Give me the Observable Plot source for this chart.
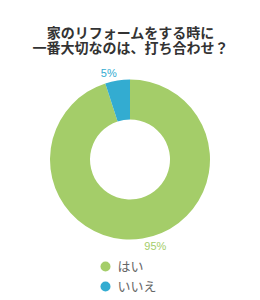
<!DOCTYPE html>
<html>
<head>
<meta charset="utf-8">
<script src="https://cdn.jsdelivr.net/npm/d3@7"></script>
<script src="https://cdn.jsdelivr.net/npm/@observablehq/plot@0.6"></script>
<style>
  html, body { margin: 0; padding: 0; background: #fff; }
</style>
</head>
<body>
<div id="chart"></div>
<script>
// ---- data ----
const titleLines = ["家のリフォームをする時に", "一番大切なのは、打ち合わせ？"];
const categories = ["はい", "いいえ"];
const values = [95, 5];
const colors = ["#a4cd69", "#33acd1"];

// ---- layout ----
const W = 260, H = 300;
const cx = 130, cy = 159.5;
const outerR = 80, innerR = 40, labelR = 88;

const pieArcs = d3.pie().sort(null)(values);
const total = d3.sum(values);
const slices = pieArcs.map((a, i) => {
  const mid = (a.startAngle + a.endAngle) / 2;
  return {
    category: categories[i],
    value: values[i],
    label: Math.round(values[i] / total * 100) + "%",
    startAngle: a.startAngle,
    endAngle: a.endAngle,
    lx: Math.sin(mid) * labelR,
    ly: -Math.cos(mid) * labelR,
    side: Math.sin(mid) >= 0 ? "right" : "left"
  };
});
const legend = categories.map((c, i) => ({category: c, row: i}));
const titleRows = titleLines.map((t, i) => ({text: t, row: i}));

const arcGen = d3.arc().innerRadius(innerR).outerRadius(outerR);

function donut(index, scales) {
  const x0 = scales && scales.x ? scales.x(0) : cx;
  const y0 = scales && scales.y ? scales.y(0) : cy;
  const color = scales && scales.color ? scales.color : (c) => colors[categories.indexOf(c)];
  const g = d3.create("svg:g").attr("transform", `translate(${x0},${y0})`);
  g.selectAll("path").data(slices).join("path")
    .attr("d", d => arcGen({startAngle: d.startAngle, endAngle: d.endAngle}))
    .attr("fill", d => color(d.category))
    .attr("stroke", "none");
  return g.node();
}

const jp = "'Noto Sans CJK JP', 'Noto Sans', sans-serif";
const latin = "'Liberation Sans', Arial, sans-serif";

const chart = Plot.plot({
  width: W,
  height: H,
  margin: 0,
  x: {domain: [-cx, W - cx], range: [0, W], axis: null},
  y: {domain: [-cy, H - cy], range: [0, H], axis: null},
  color: {domain: categories, range: colors},
  style: {background: "#fff", fontFamily: latin},
  marks: [
    donut,
    Plot.text(titleRows, {
      x: () => 0, y: d => -126 + d.row * 15, text: "text",
      lineAnchor: "middle",
      fontSize: 14, fontWeight: "bold",
      fill: "#333", fontFamily: jp
    }),
    Plot.text(slices.filter(d => d.side === "left"), {
      x: "lx", y: "ly", text: "label", fill: d => d.category,
      textAnchor: "end", fontSize: 11, fontFamily: latin
    }),
    Plot.text(slices.filter(d => d.side === "right"), {
      x: "lx", y: "ly", text: "label", fill: d => d.category,
      textAnchor: "start", fontSize: 11, fontFamily: latin
    }),
    Plot.dot(legend, {
      x: () => -25, y: d => 106.5 + d.row * 20, r: 5,
      fill: "category", stroke: null
    }),
    Plot.text(legend, {
      x: () => -13, y: d => 106.5 + d.row * 20, text: "category",
      textAnchor: "start", fontSize: 13, fill: "#666", fontFamily: jp
    })
  ]
});
document.getElementById("chart").appendChild(chart);
</script>
</body>
</html>
